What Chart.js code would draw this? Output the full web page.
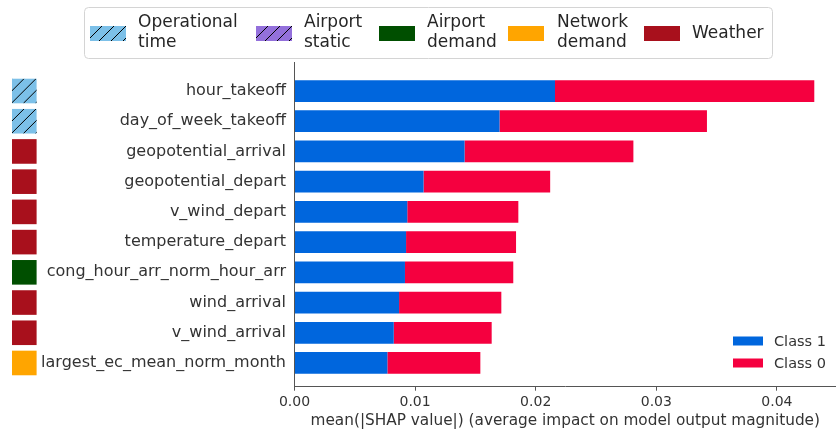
<!DOCTYPE html>
<html lang="en">
<head>
  <meta charset="UTF-8" />
  <title>SHAP feature importance</title>
  <script src="https://cdn.jsdelivr.net/npm/chart.js"></script>
  <style>
    html, body { margin: 0; padding: 0; background: #fff; }
    #wrap { width: 836px; height: 431px; position: relative; }
  </style>
</head>
<body>
<div id="wrap"><canvas id="shapChart"></canvas></div>
<script>
  // data
  const features = ['hour_takeoff', 'day_of_week_takeoff', 'geopotential_arrival', 'geopotential_depart',
    'v_wind_depart', 'temperature_depart', 'cong_hour_arr_norm_hour_arr', 'wind_arrival',
    'v_wind_arrival', 'largest_ec_mean_norm_month'];
  const class1Values = [0.0216, 0.0170, 0.0141, 0.0107, 0.00935, 0.00925, 0.00916, 0.00867, 0.00823, 0.0077];
  const class0Values = [0.0215, 0.0172, 0.0140, 0.0105, 0.00921, 0.00912, 0.00898, 0.00848, 0.00812, 0.00771];
  const featureGroup = [0, 0, 4, 4, 4, 4, 2, 4, 4, 3];
  const groupLabels = [['Operational', 'time'], ['Airport', 'static'], ['Airport', 'demand'], ['Network', 'demand'], ['Weather']];
  const groupColors = ['#7cc0e8', '#9370db', '#004f00', '#ffa500', '#a8101c'];
  const groupHatched = [true, true, false, false, false];
  const xTicks = [0, 0.01, 0.02, 0.03, 0.04];
  const classLabels = ['Class 1', 'Class 0'];

  const FONT = "'DejaVu Sans', sans-serif";

  function hatchRect(ctx, x, y, w, h, color, hatched) {
    ctx.save();
    ctx.fillStyle = color;
    ctx.fillRect(x, y, w, h);
    if (hatched) {
      ctx.beginPath();
      ctx.rect(x, y, w, h);
      ctx.clip();
      ctx.strokeStyle = '#000';
      ctx.lineWidth = 1;
      ctx.beginPath();
      for (let s = x - h; s < x + w + h; s += 12) {
        ctx.moveTo(s, y + h);
        ctx.lineTo(s + h, y);
      }
      ctx.stroke();
    }
    ctx.restore();
  }

  // group legend on top, coloured squares on the left, class legend inside
  const extras = {
    id: 'extras',
    afterDraw(chart) {
      const ctx = chart.ctx;
      const yScale = chart.scales.y;

      // squares next to each feature
      features.forEach((f, i) => {
        const g = featureGroup[i];
        const cy = yScale.getPixelForValue(i);
        hatchRect(ctx, 12, cy - 12.3, 24.6, 24.6, groupColors[g], groupHatched[g]);
      });

      // top legend box
      ctx.save();
      ctx.fillStyle = '#fff';
      ctx.strokeStyle = '#d4d4d4';
      ctx.lineWidth = 1;
      ctx.beginPath();
      ctx.roundRect(84.5, 7.5, 688, 51, 4);
      ctx.fill();
      ctx.stroke();
      const patchX = [90, 256, 379, 508, 644];
      const textX = [138, 304, 427, 557, 692];
      ctx.font = '17px ' + FONT;
      ctx.fillStyle = '#262626';
      ctx.textBaseline = 'middle';
      groupLabels.forEach((lines, g) => {
        hatchRect(ctx, patchX[g], 26, 36, 15, groupColors[g], groupHatched[g]);
        if (lines.length === 1) {
          ctx.fillText(lines[0], textX[g], 34);
        } else {
          ctx.fillText(lines[0], textX[g], 23);
          ctx.fillText(lines[1], textX[g], 43);
        }
      });

      // class legend
      ctx.font = '14.5px ' + FONT;
      chart.data.datasets.forEach((ds, k) => {
        const cy = 341 + k * 22;
        ctx.fillStyle = ds.backgroundColor;
        ctx.fillRect(733, cy - 4.5, 30, 9);
        ctx.fillStyle = '#333';
        ctx.fillText(ds.label, 774, cy + 1);
      });
      ctx.restore();
    }
  };

  const ctx = document.getElementById('shapChart').getContext('2d');
  new Chart(ctx, {
    type: 'bar',
    data: {
      datasets: [
        {
          label: classLabels[0],
          data: class1Values.map((v, i) => ({ x: v, y: i })),
          backgroundColor: '#0066dd'
        },
        {
          label: classLabels[1],
          data: class0Values.map((v, i) => ({ x: v, y: i })),
          backgroundColor: '#f5003f'
        }
      ]
    },
    options: {
      indexAxis: 'y',
      responsive: true,
      maintainAspectRatio: false,
      animation: false,
      barPercentage: 0.72,
      categoryPercentage: 1.0,
      layout: { padding: { top: 62, right: 0, left: 0, bottom: 0 } },
      plugins: {
        legend: { display: false },
        tooltip: { enabled: false }
      },
      scales: {
        x: {
          type: 'linear',
          stacked: true,
          min: 0,
          max: 0.0449,
          afterBuildTicks: (scale) => { scale.ticks = xTicks.map(v => ({ value: v })); },
          afterFit: (scale) => { scale.height = 44.3; },
          grid: { display: true, drawOnChartArea: false, drawTicks: true, tickLength: 4, color: '#555' },
          border: { display: true, color: '#555', width: 1 },
          ticks: {
            padding: 3,
            color: '#333',
            font: { family: FONT, size: 14 },
            callback: (v) => Number(v).toFixed(2)
          },
          title: {
            display: true,
            text: 'mean(|SHAP value|) (average impact on model output magnitude)',
            color: '#333',
            font: { family: FONT, size: 15.3 },
            padding: { top: 0, bottom: 1 }
          }
        },
        y: {
          type: 'linear',
          stacked: true,
          reverse: true,
          offset: false,
          min: -0.96,
          max: 9.785,
          afterBuildTicks: (scale) => { scale.ticks = features.map((f, i) => ({ value: i })); },
          afterFit: (scale) => { scale.width = 294.5; },
          grid: { display: false, drawTicks: false },
          border: { display: true, color: '#555', width: 1 },
          ticks: {
            padding: 8.5,
            color: '#333',
            font: { family: FONT, size: 16 },
            callback: (v) => features[v]
          }
        }
      }
    },
    plugins: [extras]
  });
</script>
</body>
</html>
